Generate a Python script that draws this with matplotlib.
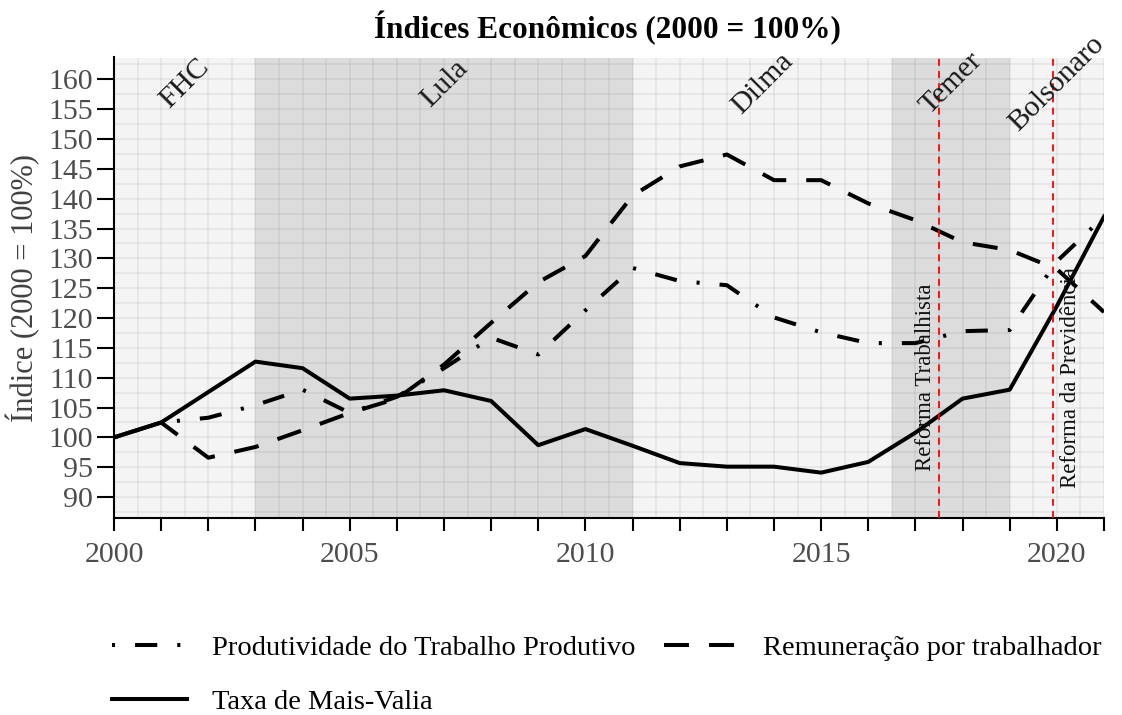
import matplotlib
matplotlib.use('Agg')
import matplotlib.pyplot as plt
from matplotlib.ticker import MultipleLocator, FuncFormatter

# ---------------- data ----------------
years = list(range(2000, 2022))
produtividade = [100, 102.5, 103.3, 105.4, 108.0, 104.1, 106.8, 111.6, 116.7, 113.9,
                 121.3, 128.4, 126.2, 125.5, 120.1, 117.6, 115.8, 115.8, 117.8, 118.0,
                 129.5, 137.0]
remuneracao = [100, 102.5, 96.6, 98.4, 101.2, 104.1, 106.5, 112.2, 119.2, 126.0,
               130.4, 140.5, 145.4, 147.4, 143.1, 143.1, 139.2, 136.4, 132.7, 131.4,
               128.2, 121.0]
mais_valia = [100, 102.5, 107.6, 112.7, 111.6, 106.5, 107.0, 107.9, 106.1, 98.7,
              101.4, 98.6, 95.7, 95.1, 95.1, 94.1, 95.9, 100.8, 106.5, 108.0,
              122.0, 137.0]

governos = ['FHC', 'Lula', 'Dilma', 'Temer', 'Bolsonaro']
gov_inicio = [2000, 2003, 2011, 2016.5, 2019]
gov_fim = [2003, 2011, 2016.5, 2019, 2021]
gov_cor = ['#f4f4f4', '#dcdcdc', '#f4f4f4', '#dcdcdc', '#f4f4f4']

reformas = ['Reforma Trabalhista', 'Reforma da Previdência']
reforma_ano = [2017.5, 2019.92]
reforma_texto_x = [2017.22, 2020.3]

serie_nomes = ['Produtividade do Trabalho Produtivo', 'Remuneração por trabalhador',
               'Taxa de Mais-Valia']

# ---------------- style ----------------
plt.rcParams['font.family'] = ['Liberation Serif', 'DejaVu Serif']
plt.rcParams['lines.scale_dashes'] = False

W, H = 1122, 715
fig = plt.figure(figsize=(W / 100, H / 100), dpi=100)
ax = fig.add_axes([114 / W, 1 - 518 / H, (1104 - 114) / W, (518 - 57.5) / H])

ax.set_xlim(2000, 2021)
ax.set_ylim(86.5, 163.65)

# shaded government periods
for g0, g1, c in zip(gov_inicio, gov_fim, gov_cor):
    ax.axvspan(g0, g1, color=c, lw=0, zorder=0)

# grid
ax.xaxis.set_major_locator(MultipleLocator(1))
ax.xaxis.set_minor_locator(MultipleLocator(0.5))
ax.set_yticks(list(range(90, 161, 5)))
ax.yaxis.set_minor_locator(MultipleLocator(2.5))
ax.grid(which='both', color='black', alpha=0.055, lw=1.3, zorder=0.5)
ax.set_axisbelow(True)

ax.xaxis.set_major_formatter(FuncFormatter(
    lambda v, p: f'{int(round(v))}' if int(round(v)) % 5 == 0 else ''))

for s in ['top', 'right']:
    ax.spines[s].set_visible(False)
for s in ['left', 'bottom']:
    ax.spines[s].set_linewidth(1.5)
    ax.spines[s].set_color('black')

ax.tick_params(axis='both', which='minor', length=0)
ax.tick_params(axis='y', which='major', length=12, width=1.5, pad=3,
               labelsize=21.5, labelcolor='#4d4d4d')
ax.tick_params(axis='x', which='major', length=9.5, width=1.5, pad=8,
               labelsize=21.5, labelcolor='#4d4d4d')

# series
lw = 2.9
l_prod, = ax.plot(years, produtividade, color='black', lw=lw,
                  ls=(0, (2.2, 14.4, 16, 14.4)), zorder=3, label=serie_nomes[0])
l_rem, = ax.plot(years, remuneracao, color='black', lw=lw,
                 ls=(0, (18, 14.4)), zorder=3, label=serie_nomes[1])
l_mv, = ax.plot(years, mais_valia, color='black', lw=lw, ls='-', zorder=3,
                label=serie_nomes[2])

# reform lines
for x in reforma_ano:
    ax.axvline(x, color='red', lw=1.3, ls=(0, (5, 3.8)), zorder=4)
for t, x in zip(reformas, reforma_texto_x):
    ax.text(x, 110, t, rotation=90, ha='center', va='center', fontsize=16.5,
            color='#111111', zorder=5)

# government labels
for name, g0, g1 in zip(governos, gov_inicio, gov_fim):
    ax.text((g0 + g1) / 2, 159.3, name, rotation=45, rotation_mode='anchor',
            ha='center', va='center', fontsize=21.5, color='#1a1a1a', zorder=5,
            clip_on=False)

ax.set_ylabel('Índice (2000 = 100%)', fontsize=22, color='#404040')
ax.yaxis.set_label_coords(-74 / 990, 0.5)

fig.text(607 / W, 1 - 28 / H, 'Índices Econômicos (2000 = 100%)', ha='center',
         va='center', fontsize=22.5, fontweight='bold', color='black')

# legend
fs = 20.5
leg = fig.legend(handles=[l_prod, l_mv, l_rem], ncol=2, loc='upper left',
                 bbox_to_anchor=(86 / W, 1 - 609 / H), frameon=False, fontsize=fs,
                 handlelength=2.63, handletextpad=0.88, columnspacing=1.0,
                 labelspacing=1.0)

fig.savefig('out.png', dpi=100)
